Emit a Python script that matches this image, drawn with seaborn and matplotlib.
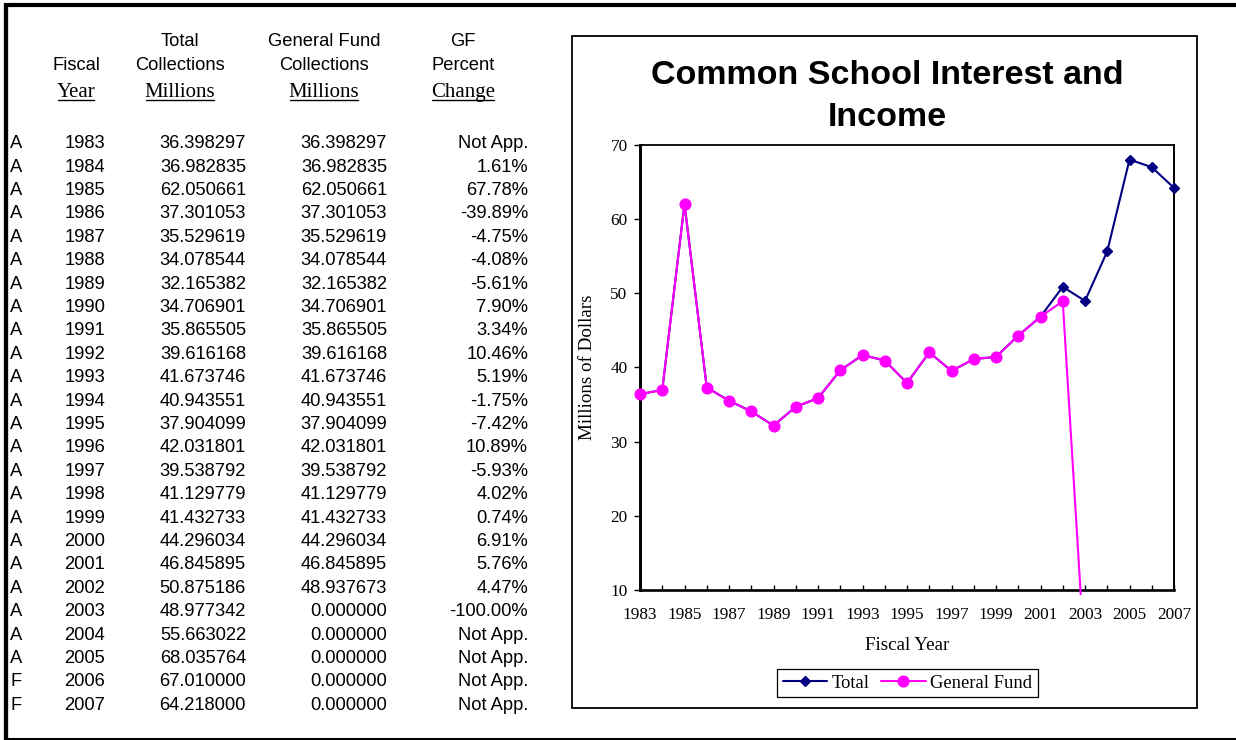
import matplotlib
matplotlib.use("Agg")
import matplotlib.pyplot as plt
from matplotlib.lines import Line2D
from matplotlib.patches import Rectangle
import pandas as pd
import seaborn as sns

# ---- data ---------------------------------------------------------------
status = ["A"] * 23 + ["F", "F"]
years = list(range(1983, 2008))
total_collections = [
    36.398297, 36.982835, 62.050661, 37.301053, 35.529619, 34.078544,
    32.165382, 34.706901, 35.865505, 39.616168, 41.673746, 40.943551,
    37.904099, 42.031801, 39.538792, 41.129779, 41.432733, 44.296034,
    46.845895, 50.875186, 48.977342, 55.663022, 68.035764, 67.010000,
    64.218000,
]
gf_collections = [
    36.398297, 36.982835, 62.050661, 37.301053, 35.529619, 34.078544,
    32.165382, 34.706901, 35.865505, 39.616168, 41.673746, 40.943551,
    37.904099, 42.031801, 39.538792, 41.129779, 41.432733, 44.296034,
    46.845895, 48.937673, 0.0, 0.0, 0.0, 0.0, 0.0,
]
gf_pct_change = [
    "Not App.", "1.61%", "67.78%", "-39.89%", "-4.75%", "-4.08%", "-5.61%",
    "7.90%", "3.34%", "10.46%", "5.19%", "-1.75%", "-7.42%", "10.89%",
    "-5.93%", "4.02%", "0.74%", "6.91%", "5.76%", "4.47%", "-100.00%",
    "Not App.", "Not App.", "Not App.", "Not App.",
]
gf_chart_last_year = 2003

header_top = ["", "Total", "General Fund", "GF"]
header_mid = ["Fiscal", "Collections", "Collections", "Percent"]
header_sub = ["Year", "Millions", "Millions", "Change"]

chart_title = ["Common School Interest and", "Income"]
series_names = ["Total", "General Fund"]

# ---- styling -------------------------------------------------------------
sns.set_style("white")
plt.rcParams["font.family"] = ["Liberation Sans", "DejaVu Sans"]
plt.rcParams["text.color"] = "black"
plt.rcParams["axes.labelcolor"] = "black"
plt.rcParams["xtick.color"] = "black"
plt.rcParams["ytick.color"] = "black"
SERIF = ["Liberation Serif", "DejaVu Serif"]
NAVY = "#000080"
MAGENTA = "#FF00FF"

W, H = 1236, 740
fig = plt.figure(figsize=(W / 100, H / 100), dpi=100)
fig.patch.set_facecolor("white")


def fx(x):
    return x / W


def fy(y):
    return 1 - y / H


# page frame: heavy rule along top, left and bottom
fig.add_artist(Line2D([fx(4.2), 1], [fy(4.8), fy(4.8)], lw=3.0,
                      color="black", solid_capstyle="butt"))
fig.add_artist(Line2D([fx(6.3), fx(6.3)], [fy(2.7), fy(740)], lw=3.1,
                      color="black", solid_capstyle="butt"))
fig.add_artist(Line2D([fx(4.2), 1], [fy(738.8), fy(738.8)], lw=2.2,
                      color="black", solid_capstyle="butt"))

# ---- table ---------------------------------------------------------------
header_x = [76, 180, 324, 463]
for x, t in zip(header_x, header_top):
    if t:
        fig.text(fx(x), fy(46.5), t, ha="center", va="baseline", fontsize=13.2)
for x, t in zip(header_x, header_mid):
    fig.text(fx(x), fy(70.5), t, ha="center", va="baseline", fontsize=13.2)
sub_texts = []
for x, t in zip(header_x, header_sub):
    sub_texts.append(
        fig.text(fx(x), fy(96.7), t, ha="center", va="baseline",
                 fontsize=15, family=SERIF)
    )

row0, row_step = 148.2, 23.4
for i in range(len(years)):
    yb = fy(row0 + i * row_step)
    fig.text(fx(10), yb, status[i], ha="left", va="baseline", fontsize=13.2)
    fig.text(fx(105), yb, str(years[i]), ha="right", va="baseline", fontsize=13.2)
    fig.text(fx(246), yb, f"{total_collections[i]:.6f}", ha="right",
             va="baseline", fontsize=13.2)
    fig.text(fx(387), yb, f"{gf_collections[i]:.6f}", ha="right",
             va="baseline", fontsize=13.2)
    fig.text(fx(528), yb, gf_pct_change[i], ha="right", va="baseline",
             fontsize=13.2)

# ---- chart panel ---------------------------------------------------------
fig.add_artist(Rectangle((fx(572), fy(708)), 625 / W, 672 / H,
                         transform=fig.transFigure, fill=False,
                         edgecolor="black", lw=1.3))

fig.text(fx(887), fy(83.5), chart_title[0], ha="center", va="baseline",
         fontsize=24.5, fontweight="bold", color="black")
fig.text(fx(887), fy(126), chart_title[1], ha="center", va="baseline",
         fontsize=24.5, fontweight="bold", color="black")

ax = fig.add_axes([fx(640), fy(590), 534 / W, 445 / H])
ax.set_facecolor("white")

total_df = pd.DataFrame({"Fiscal Year": years, "Millions": total_collections})
gf_df = pd.DataFrame({"Fiscal Year": years, "Millions": gf_collections})
gf_df = gf_df[gf_df["Fiscal Year"] <= gf_chart_last_year]

sns.lineplot(data=total_df, x="Fiscal Year", y="Millions", ax=ax,
             color=NAVY, lw=1.5, marker="D", markersize=5.4,
             markeredgecolor=NAVY, markerfacecolor=NAVY, markeredgewidth=1,
             label=series_names[0], zorder=2, errorbar=None, sort=False)
sns.lineplot(data=gf_df, x="Fiscal Year", y="Millions", ax=ax,
             color=MAGENTA, lw=1.5, marker="o", markersize=7.7,
             markeredgecolor=MAGENTA, markerfacecolor=MAGENTA,
             markeredgewidth=1, label=series_names[1], zorder=3,
             errorbar=None, sort=False)

# let end markers spill over the frame; the falling line stops just past it
clip_box = Rectangle((fx(615), fy(595)), 590 / W, 470 / H,
                     transform=fig.transFigure, visible=False)
fig.add_artist(clip_box)
for ln in ax.get_lines():
    ln.set_clip_path(clip_box)

ax.set_xlim(1983, 2007)
ax.set_ylim(10, 70)
major_years = years[::2]
ax.set_xticks(major_years, labels=[str(y) for y in major_years],
              fontsize=12.4, fontfamily=SERIF, color="black")
ax.set_xticks(years, minor=True)
yt = list(range(10, 71, 10))
ax.set_yticks(yt, labels=[str(v) for v in yt], fontsize=12.4,
              fontfamily=SERIF, color="black")
ax.tick_params(axis="x", which="both", direction="in", length=3.8,
               width=1, pad=12, bottom=True, top=False, color="black")
ax.tick_params(axis="y", which="both", direction="out", length=4,
               width=1, pad=5, left=True, right=False, color="black")

for side, lw in (("left", 2.1), ("bottom", 1.9), ("top", 1.3), ("right", 1.4)):
    ax.spines[side].set_visible(True)
    ax.spines[side].set_color("black")
    ax.spines[side].set_linewidth(lw)
    ax.spines[side].set_zorder(1)

ax.set_xlabel("Fiscal Year", fontsize=13.7, fontfamily=SERIF, color="black")
ax.set_ylabel("Millions of Dollars", fontsize=13.7, fontfamily=SERIF,
              color="black")
ax.xaxis.set_label_coords(0.5, -0.105)
ax.yaxis.set_label_coords(-0.082, 0.5)

leg = ax.legend(loc="center", bbox_to_anchor=(fx(907.5), fy(683)),
                bbox_transform=fig.transFigure, ncol=2, frameon=True,
                fancybox=False, framealpha=1, edgecolor="black",
                prop={"family": SERIF, "size": 13.4}, handlelength=2.4,
                handletextpad=0.25, columnspacing=0.6, borderpad=0.3,
                borderaxespad=0, numpoints=1, labelcolor="black")
leg.get_frame().set_linewidth(0.9)

# underline the unit row of the table header
fig.canvas.draw()
renderer = fig.canvas.get_renderer()
for t in sub_texts:
    bb = t.get_window_extent(renderer)
    fig.add_artist(Line2D([bb.x0 / W + 0.001, bb.x1 / W - 0.001],
                          [fy(99.6), fy(99.6)], lw=1.0, color="black"))

fig.savefig("out.png", dpi=100)
